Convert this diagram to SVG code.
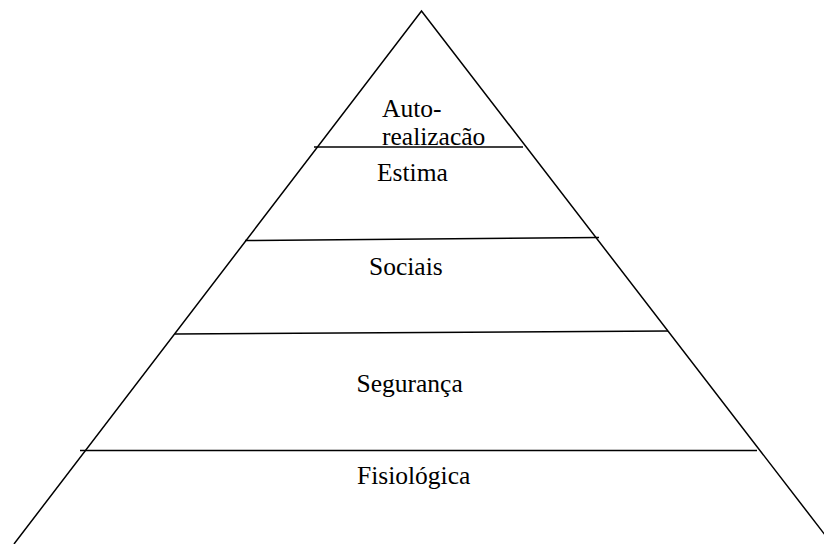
<svg xmlns="http://www.w3.org/2000/svg" width="824" height="544" viewBox="0 0 824 544">
<style>
.ln{stroke:#000;stroke-width:1.5;fill:none}
text{font-family:'Liberation Serif','Times New Roman',Times,serif;font-size:25.5px;fill:#000}
</style>
<rect width="824" height="544" fill="#fff"/>
<g id="connectors">
<path class="ln" d="M14,544 L421.5,11 L832,544"/>
<line class="ln" x1="314" y1="147" x2="523" y2="147"/>
<line class="ln" x1="245" y1="240.5" x2="599" y2="237.5"/>
<line class="ln" x1="175" y1="334" x2="668" y2="331"/>
<line class="ln" x1="80" y1="450.5" x2="757" y2="450.5"/>
</g>
<g id="autorealizacao"><text x="382" y="116.5" font-family="Liberation Serif, serif">Auto-</text><text x="382" y="145" font-family="Liberation Serif, serif">realizacão</text></g>
<g id="estima"><text x="377" y="181" font-family="Liberation Serif, serif">Estima</text></g>
<g id="sociais"><text x="369" y="275" font-family="Liberation Serif, serif">Sociais</text></g>
<g id="seguranca"><text x="356.5" y="392" font-family="Liberation Serif, serif">Segurança</text></g>
<g id="fisiologica"><text x="357" y="484" font-family="Liberation Serif, serif">Fisiológica</text></g>
</svg>
